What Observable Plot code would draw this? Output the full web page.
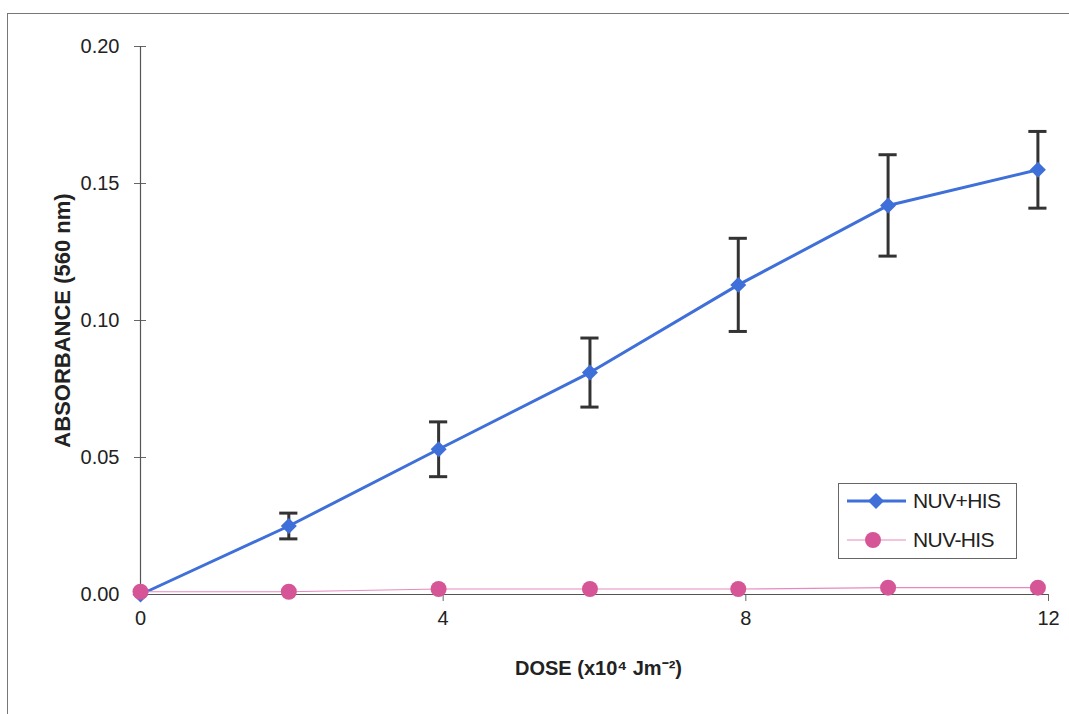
<!DOCTYPE html>
<html>
<head>
<meta charset="utf-8">
<script src="https://cdn.jsdelivr.net/npm/d3@7"></script>
<script src="https://cdn.jsdelivr.net/npm/@observablehq/plot@0.6"></script>
<style>
  html, body { margin: 0; padding: 0; background: #fff; overflow: hidden; }
  #wrap { position: relative; width: 1069px; height: 714px; font-family: "Liberation Sans", Arial, sans-serif; }
  #frame { position: absolute; left: 7px; top: 13px; width: 1200px; height: 900px; border-left: 1.5px solid #777; border-top: 1.5px solid #777; pointer-events: none; }
  #legend { position: absolute; left: 838px; top: 483px; width: 177px; height: 74px; border: 1.5px solid #666; background: #fff; }
  .entry { position: absolute; left: 0; height: 30px; display: flex; align-items: center; }
  .entry span { font-size: 21px; color: #222; letter-spacing: -0.6px; margin-left: 4px; }
</style>
</head>
<body>
<div id="wrap">
  <div id="chart"></div>
  <div id="frame"></div>
  <div id="legend">
    <div class="entry" style="top:2px">
      <svg width="70" height="30"><line x1="8" x2="67" y1="15" y2="15" stroke="#3f6fd8" stroke-width="3"/><path d="M37,7 L45,15 L37,23 L29,15 Z" fill="#3f6fd8"/></svg>
      <span>NUV+HIS</span>
    </div>
    <div class="entry" style="top:41px">
      <svg width="70" height="30"><line x1="8" x2="67" y1="15" y2="15" stroke="#e58ac0" stroke-width="1.2"/><circle cx="34" cy="15" r="8" fill="#d65597"/></svg>
      <span>NUV-HIS</span>
    </div>
  </div>
</div>
<script>
// UV dose (x10^4 J m^-2)
const dose = [0, 1.96, 3.94, 5.94, 7.9, 9.88, 11.86];
// Absorbance at 560 nm with histidine
const nuvPlusHis = [0, 0.025, 0.053, 0.081, 0.113, 0.142, 0.155];
// Error (±) for the histidine series
const nuvPlusHisErr = [0, 0.0047, 0.010, 0.0126, 0.017, 0.0185, 0.014];
// Absorbance at 560 nm without histidine
const nuvMinusHis = [0.001, 0.001, 0.002, 0.002, 0.002, 0.0025, 0.0025];
// Axis ticks
const xTicks = [0, 4, 8, 12];
const yTicks = [0, 0.05, 0.10, 0.15, 0.20];

const plus = dose.map((x, i) => ({x, y: nuvPlusHis[i], lo: nuvPlusHis[i] - nuvPlusHisErr[i], hi: nuvPlusHis[i] + nuvPlusHisErr[i]}));
const minus = dose.map((x, i) => ({x, y: nuvMinusHis[i]}));
const bars = plus.filter(d => d.hi > d.lo);
const capHalf = 0.12;

const chart = Plot.plot({
  width: 1069,
  height: 714,
  marginLeft: 140,
  marginRight: 21,
  marginTop: 46,
  marginBottom: 120,
  style: {fontFamily: "Liberation Sans, Arial, sans-serif", background: "transparent"},
  x: {domain: [0, 12]},
  y: {domain: [0, 0.2]},
  marks: [
    // axes
    Plot.axisY({ticks: yTicks, tickFormat: d3.format(".2f"), tickSize: 6, tickPadding: 15, fontSize: 20, color: "#222", stroke: "#666", label: null}),
    Plot.axisY({ticks: yTicks, tickSize: -6, text: null, stroke: "#666", label: null}),
    Plot.axisX({ticks: xTicks, tickSize: 7, tickPadding: 9, fontSize: 20, color: "#222", stroke: "#666", label: null}),
    Plot.ruleX([0], {stroke: "#555", strokeWidth: 1.2}),
    Plot.ruleY([0], {stroke: "#555", strokeWidth: 1.2}),
    // error bars
    Plot.ruleX(bars, {x: "x", y1: "lo", y2: "hi", stroke: "#333", strokeWidth: 3}),
    Plot.ruleY(bars, {y: "hi", x1: d => d.x - capHalf, x2: d => d.x + capHalf, stroke: "#333", strokeWidth: 3}),
    Plot.ruleY(bars, {y: "lo", x1: d => d.x - capHalf, x2: d => d.x + capHalf, stroke: "#333", strokeWidth: 3}),
    // NUV+HIS
    Plot.line(plus, {x: "x", y: "y", stroke: "#3f6fd8", strokeWidth: 3}),
    Plot.dot(plus, {x: "x", y: "y", symbol: "diamond2", r: 7.2, fill: "#3f6fd8"}),
    // NUV-HIS
    Plot.line(minus, {x: "x", y: "y", stroke: "#e58ac0", strokeWidth: 1.2}),
    Plot.dot(minus, {x: "x", y: "y", r: 8, fill: "#d65597"}),
    // axis titles
    Plot.text(["ABSORBANCE (560 nm)"], {frameAnchor: "left", dx: -78, textAnchor: "middle", rotate: -90, fontSize: 22, fontWeight: "bold", fill: "#222", letterSpacing: -0.3}),
    Plot.text(["DOSE (x10⁴ Jm⁻²)"], {frameAnchor: "bottom", dy: 80, dx: 4, fontSize: 20, fontWeight: "bold", fill: "#222"})
  ]
});
document.getElementById("chart").appendChild(chart);
</script>
</body>
</html>
